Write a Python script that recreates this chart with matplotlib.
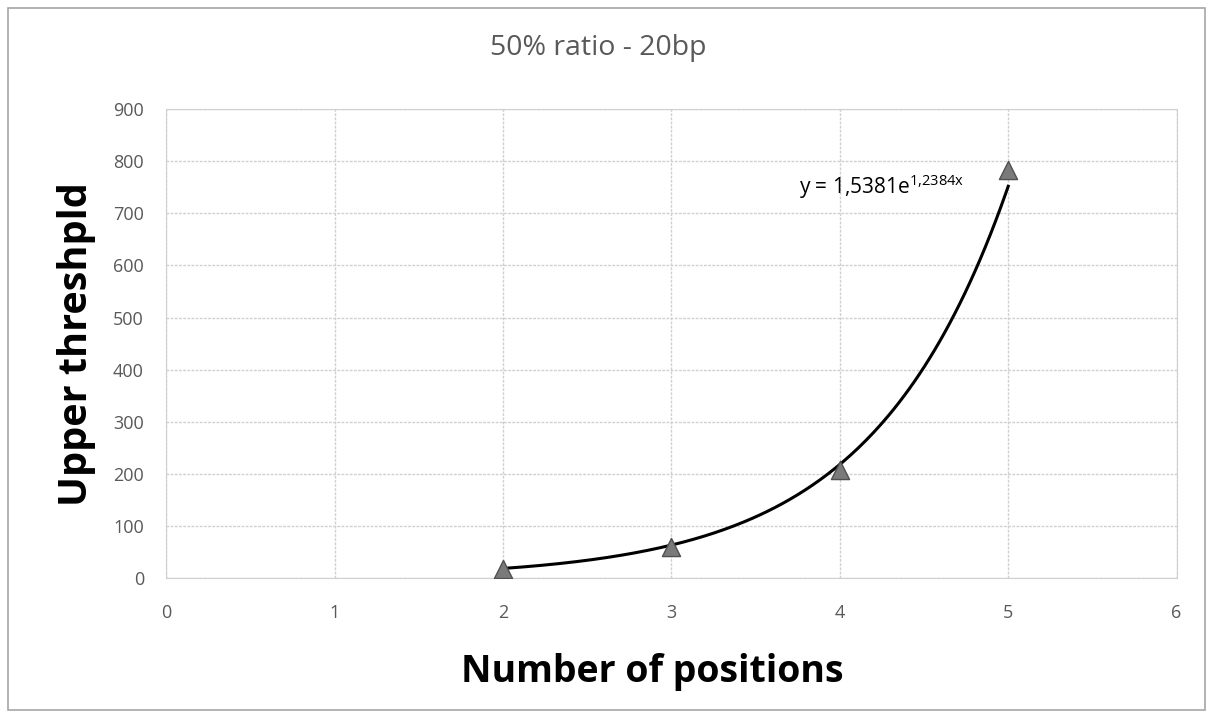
import matplotlib.pyplot as plt
from matplotlib.patches import Rectangle
import numpy as np

# data
positions = [2, 3, 4, 5]
thresholds = [17, 60, 207, 783]

# trendline shown on the chart: y = 1,5381 e^(1,2384 x)
fit_a = 1.5381
fit_b = 1.2384
fit_label = r"y = 1,5381e$^{\mathregular{1{,}2384x}}$"

x_ticks = [0, 1, 2, 3, 4, 5, 6]
y_ticks = [0, 100, 200, 300, 400, 500, 600, 700, 800, 900]

plt.rcParams['font.family'] = ['Open Sans', 'DejaVu Sans']
grey_text = '#595959'
grid_col = '#d0d0d0'

fig = plt.figure(figsize=(12.13, 7.18), dpi=100)
fig.patches.append(Rectangle((0.007, 0.011), 0.986, 0.978, transform=fig.transFigure,
                             fill=False, edgecolor='#a6a6a6', linewidth=1.2))

ax = fig.add_axes([0.137, 0.195, 0.833, 0.653])

# trendline
xs = np.linspace(positions[0], positions[-1], 200)
ax.plot(xs, fit_a * np.exp(fit_b * xs), color='black', linewidth=2.2, zorder=3)

# data points
ax.scatter(positions, thresholds, marker='^', s=170, color='#7a7a7a',
           edgecolors='#505050', linewidths=1.0, zorder=4)

ax.text(3.76, 752, fit_label, fontsize=15, color='black', ha='left', va='center')

ax.set_xlim(0, 6)
ax.set_ylim(0, 900)
ax.set_xticks(x_ticks)
ax.set_yticks(y_ticks)
ax.grid(True, color=grid_col, linewidth=1.0, linestyle=(0, (2, 1)))
ax.set_axisbelow(True)
for sp in ax.spines.values():
    sp.set_color(grid_col)
    sp.set_linestyle((0, (2, 1)))
ax.tick_params(length=0, labelsize=13, labelcolor=grey_text)
ax.tick_params(axis='x', pad=19)
ax.tick_params(axis='y', pad=16)

ax.set_xlabel("Number of positions", fontsize=27, fontweight='bold', labelpad=22)
ax.xaxis.label.set_x(0.481)
ax.set_ylabel("Upper threshpld", fontsize=28.5, fontweight='bold', labelpad=12)

fig.text(0.493, 0.933, "50% ratio - 20bp", fontsize=20.5, color=grey_text,
         ha='center', va='center')

fig.savefig("out.png", dpi=100)
